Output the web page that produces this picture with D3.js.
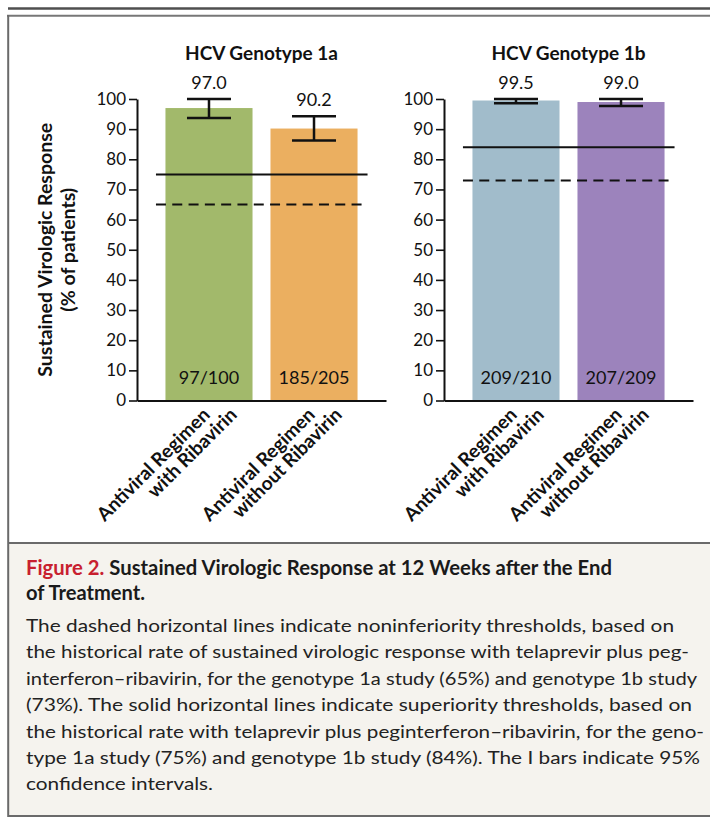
<!DOCTYPE html>
<html><head><meta charset="utf-8">
<script src="https://cdn.jsdelivr.net/npm/d3@7"></script>
<style>
html,body{margin:0;padding:0;background:#fff;}
svg{display:block;font-family:Lato,"Open Sans",sans-serif;}
</style></head><body>
<svg id="chart" width="710" height="817"></svg>
<script>
// ---------------- data ----------------
const panelTitles = ["HCV Genotype 1a", "HCV Genotype 1b"];
const categories = ["with", "without"];
const categoryLine1 = ["Antiviral Regimen", "Antiviral Regimen"];
const categoryLine2 = ["with Ribavirin", "without Ribavirin"];
const svr1a = [97.0, 90.2];
const svr1b = [99.5, 99.0];
const ciLow1a = [93.7, 86.2];
const ciHigh1a = [100, 94.3];
const ciLow1b = [98.6, 97.7];
const ciHigh1b = [100, 100];
const counts1a = ["97/100", "185/205"];
const counts1b = ["209/210", "207/209"];
const superiority = [75, 84];
const noninferiority = [65, 73];
const yTicks = [0, 10, 20, 30, 40, 50, 60, 70, 80, 90, 100];
const colors1a = ["#a2b96b", "#ebaf60"];
const colors1b = ["#a1bccb", "#9c83bc"];
const yTitle = ["Sustained Virologic Response", "(% of patients)"];
const captionTitleRed = "Figure 2.";
const captionTitle = [" Sustained Virologic Response at 12 Weeks after the End", "of Treatment."];
const captionBody = [
  "The dashed horizontal lines indicate noninferiority thresholds, based on",
  "the historical rate of sustained virologic response with telaprevir plus peg-",
  "interferon\u2013ribavirin, for the genotype 1a study (65%) and genotype 1b study",
  "(73%). The solid horizontal lines indicate superiority thresholds, based on",
  "the historical rate with telaprevir plus peginterferon\u2013ribavirin, for the geno-",
  "type 1a study (75%) and genotype 1b study (84%). The I bars indicate 95%",
  "confidence intervals."
];

const panels = [
  {title: panelTitles[0], values: svr1a, lo: ciLow1a, hi: ciHigh1a, counts: counts1a, colors: colors1a, sup: superiority[0], non: noninferiority[0]},
  {title: panelTitles[1], values: svr1b, lo: ciLow1b, hi: ciHigh1b, counts: counts1b, colors: colors1b, sup: superiority[1], non: noninferiority[1]}
];

// ---------------- layout ----------------
const W = 710, H = 817;
const svg = d3.select("#chart");
const panelX = [137, 444];
const panelW = 249;
const yTop = 99, yBot = 400.5;

// frame
svg.append("rect").attr("x", 8).attr("y", 543).attr("width", W - 8).attr("height", H - 543).attr("fill", "#f5f3ee");
svg.append("line").attr("x1", 8).attr("x2", W).attr("y1", 8.5).attr("y2", 8.5).attr("stroke", "#4f4f4f").attr("stroke-width", 2.7);
svg.append("line").attr("x1", 7).attr("x2", W).attr("y1", 15.7).attr("y2", 15.7).attr("stroke", "#777").attr("stroke-width", 2);
svg.append("line").attr("x1", 8.2).attr("x2", 8.2).attr("y1", 15).attr("y2", H).attr("stroke", "#6a6a6a").attr("stroke-width", 2);
svg.append("line").attr("x1", 8).attr("x2", W).attr("y1", 543).attr("y2", 543).attr("stroke", "#6a6a6a").attr("stroke-width", 2);
svg.append("line").attr("x1", 8).attr("x2", W).attr("y1", 816).attr("y2", 816).attr("stroke", "#6a6a6a").attr("stroke-width", 2);

const y = d3.scaleLinear().domain([0, 100]).range([yBot, yTop]);
const x = d3.scaleBand().domain(categories).range([0, panelW]).paddingInner(0.171).paddingOuter(0.271);
const bw = x.bandwidth();
const capW = 44;
const ink = "#111";

panels.forEach((p, i) => {
  const g = svg.append("g").attr("transform", `translate(${panelX[i]},0)`);

  // bars
  g.selectAll("rect.bar").data(categories).enter().append("rect")
    .attr("class", "bar")
    .attr("x", d => x(d)).attr("width", bw)
    .attr("y", (d, j) => y(p.values[j])).attr("height", (d, j) => y(0) - y(p.values[j]))
    .attr("fill", (d, j) => p.colors[j]);

  // threshold lines
  const lx1 = x(categories[0]) - 9.5, lx2 = x(categories[1]) + bw + 10;
  g.append("line").attr("x1", lx1).attr("x2", lx2).attr("y1", y(p.sup)).attr("y2", y(p.sup))
    .attr("stroke", ink).attr("stroke-width", 2);
  g.append("line").attr("x1", lx1).attr("x2", lx2).attr("y1", y(p.non)).attr("y2", y(p.non))
    .attr("stroke", ink).attr("stroke-width", 2).attr("stroke-dasharray", "10,6.3");

  // error bars
  categories.forEach((c, j) => {
    const cx = x(c) + bw / 2;
    const eb = g.append("g").attr("stroke", ink).attr("stroke-width", 2.5);
    eb.append("line").attr("x1", cx).attr("x2", cx).attr("y1", y(p.hi[j])).attr("y2", y(p.lo[j]));
    eb.append("line").attr("x1", cx - capW / 2).attr("x2", cx + capW / 2).attr("y1", y(p.hi[j])).attr("y2", y(p.hi[j]));
    eb.append("line").attr("x1", cx - capW / 2).attr("x2", cx + capW / 2).attr("y1", y(p.lo[j])).attr("y2", y(p.lo[j]));
    // value label
    g.append("text").attr("x", cx).attr("y", y(p.hi[j]) - 10).attr("text-anchor", "middle")
      .attr("font-size", 18).attr("fill", ink).text(p.values[j].toFixed(1));
    // count label
    g.append("text").attr("x", cx).attr("y", y(0) - 16.5).attr("text-anchor", "middle")
      .attr("font-size", 18).attr("fill", ink).text(p.counts[j]);
    // category labels (rotated)
    g.append("text").attr("transform", `translate(${cx + 2},416) rotate(-45)`)
      .attr("text-anchor", "end").attr("font-size", 19).attr("font-weight", 700).attr("fill", ink)
      .text(categoryLine1[j]);
    g.append("text").attr("transform", `translate(${cx + 29},416) rotate(-45)`)
      .attr("text-anchor", "end").attr("font-size", 19).attr("font-weight", 700).attr("fill", ink)
      .text(categoryLine2[j]);
  });

  // axes
  const ya = g.append("g").call(d3.axisLeft(y).tickValues(yTicks).tickSize(8).tickSizeOuter(0).tickPadding(3).tickFormat(d3.format("d")));
  ya.select(".domain").attr("stroke", ink).attr("stroke-width", 2);
  ya.selectAll(".tick line").attr("stroke", ink).attr("stroke-width", 1.6);
  ya.selectAll(".tick text").attr("font-size", 17).attr("fill", ink).attr("font-family", "Lato");
  const xa = g.append("g").attr("transform", `translate(0,${y(0)})`)
    .call(d3.axisBottom(x).tickSize(0).tickSizeOuter(0).tickFormat(""));
  xa.select(".domain").attr("stroke", ink).attr("stroke-width", 2);

  // panel title
  g.append("text").attr("x", (x(categories[0]) + x(categories[1]) + bw) / 2).attr("y", 60)
    .attr("text-anchor", "middle").attr("font-size", 19).attr("font-weight", 700).attr("fill", ink)
    .text(p.title);
});

// y axis title
const yMid = (y(0) + y(100)) / 2;
[52, 75].forEach((bx, k) => {
  svg.append("text").attr("transform", `translate(${bx},${yMid}) rotate(-90)`)
    .attr("text-anchor", "middle").attr("font-size", 19.5).attr("font-weight", 700).attr("fill", ink)
    .text(yTitle[k]);
});

// caption
const titleWidths = [586, 119];
const t1 = svg.append("text").attr("x", 26).attr("y", 575).attr("font-size", 20).attr("font-weight", 700)
  .attr("textLength", titleWidths[0]).attr("lengthAdjust", "spacingAndGlyphs");
t1.append("tspan").attr("fill", "#c8202f").text(captionTitleRed);
t1.append("tspan").attr("fill", "#1a1a1a").text(captionTitle[0]);
svg.append("text").attr("x", 26).attr("y", 600).attr("font-size", 20).attr("font-weight", 700).attr("fill", "#1a1a1a")
  .attr("textLength", titleWidths[1]).attr("lengthAdjust", "spacingAndGlyphs").text(captionTitle[1]);

const bodyWidths = [648, 663, 671, 666, 678, 674, 187];
captionBody.forEach((line, k) => {
  svg.append("text").attr("x", 26).attr("y", 632 + k * 26.4).attr("font-size", 18).attr("fill", "#222")
    .attr("textLength", bodyWidths[k]).attr("lengthAdjust", "spacingAndGlyphs").text(line);
});
</script>
</body></html>
